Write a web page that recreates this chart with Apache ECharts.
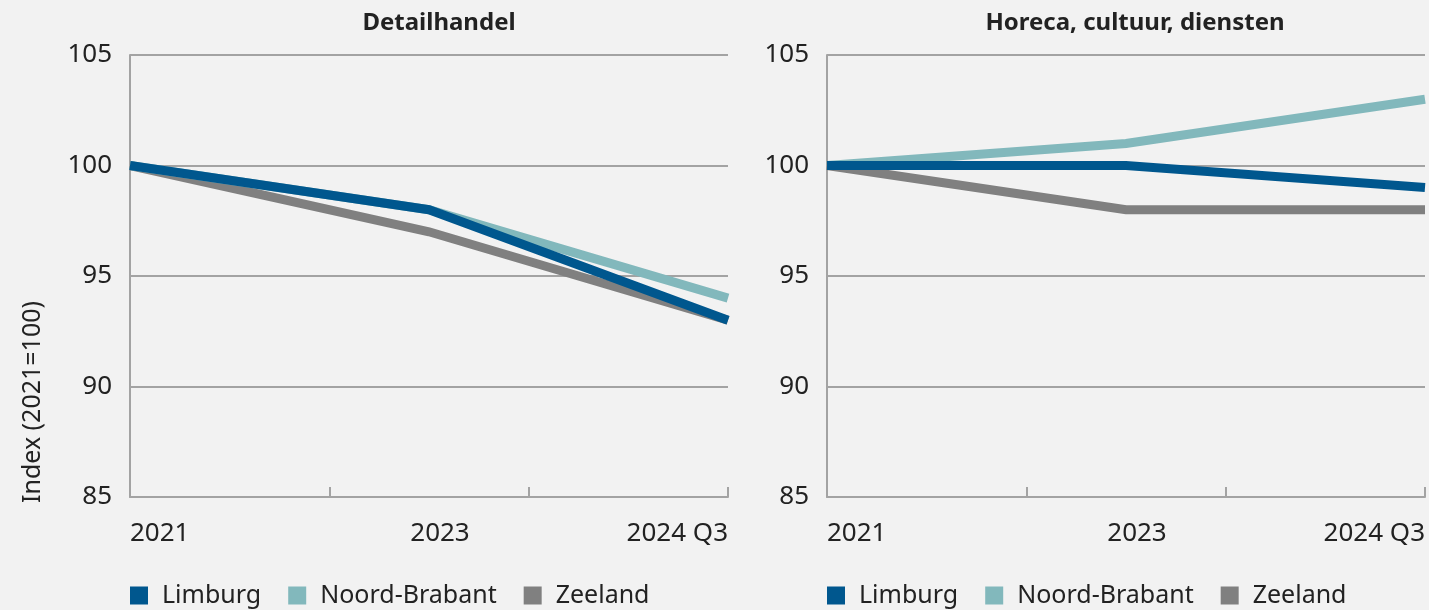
<!DOCTYPE html>
<html>
<head>
<meta charset="utf-8">
<script src="https://cdn.jsdelivr.net/npm/echarts@6/dist/echarts.min.js"></script>
<style>
  html, body { margin: 0; padding: 0; background: #f2f2f2; }
  #main { width: 1429px; height: 610px; }
</style>
</head>
<body>
<div id="main"></div>
<script>
// periodes op de x-as
var periods = ['2021', '2023', '2024 Q3'];
var regions = ['Limburg', 'Noord-Brabant', 'Zeeland'];

// Detailhandel
var detailLimburg = [100, 98, 93];
var detailBrabant = [100, 98, 94];
var detailZeeland = [100, 97, 93];

// Horeca, cultuur, diensten
var horecaLimburg = [100, 100, 99];
var horecaBrabant = [100, 101, 103];
var horecaZeeland = [100, 98, 98];

var colors = { 'Limburg': '#00578e', 'Noord-Brabant': '#82b8bc', 'Zeeland': '#808080' };
var font = '"Noto Sans", sans-serif';
var gridColor = '#a3a3a3';
var fs = 26;

// 7 slots: periodes op 0, 3 en 6, tickjes op 0, 2, 4, 6
var slots = ['', '', '', '', '', '', ''];
periods.forEach(function (p, i) { slots[i * 3] = p; });

function spread(vals) {
    var out = [null, null, null, null, null, null, null];
    vals.forEach(function (v, i) { out[i * 3] = v; });
    return out;
}

function xAxis(idx) {
    return {
        type: 'category',
        gridIndex: idx,
        boundaryGap: false,
        data: slots,
        axisLine: { lineStyle: { color: gridColor, width: 2 } },
        axisTick: {
            show: true, inside: true, length: 10,
            interval: function (i) { return i % 2 === 0; },
            lineStyle: { color: gridColor, width: 2 }
        },
        axisLabel: {
            interval: 0, fontSize: fs, color: '#222', fontFamily: font, margin: 24,
            alignMinLabel: 'left', alignMaxLabel: 'right',
            formatter: function (v, i) { return i === 3 ? '{m|' + v + '}' : v; },
            rich: { m: { fontSize: fs, color: '#222', fontFamily: font, padding: [0, 0, 0, 22] } }
        }
    };
}

function yAxis(idx) {
    return {
        type: 'value',
        gridIndex: idx,
        min: 85, max: 105, interval: 5,
        axisLine: { show: true, lineStyle: { color: gridColor, width: 2 } },
        axisTick: { show: false },
        splitLine: { lineStyle: { color: gridColor, width: 2 } },
        axisLabel: { fontSize: fs, color: '#222', fontFamily: font, margin: 18 }
    };
}

function line(name, vals, idx, z) {
    return {
        name: name,
        type: 'line',
        xAxisIndex: idx,
        yAxisIndex: idx,
        data: spread(vals),
        connectNulls: true,
        symbol: 'none',
        z: z,
        color: colors[name],
        lineStyle: { width: 9, color: colors[name], cap: 'butt', join: 'miter' }
    };
}

function legend(left) {
    return {
        data: regions,
        left: left, top: 583, padding: 0,
        icon: 'rect', itemWidth: 18, itemHeight: 18, itemGap: 27,
        textStyle: { fontSize: 25, color: '#222', fontFamily: font, padding: [0, 0, 0, 9] }
    };
}

var chart = echarts.init(document.getElementById('main'));
var option = {
    backgroundColor: '#f2f2f2',
    animation: false,
    title: [
        { text: 'Detailhandel', left: 434, top: 6, textAlign: 'center',
          textStyle: { fontSize: 24, fontWeight: 'bold', color: '#222', fontFamily: font } },
        { text: 'Horeca, cultuur, diensten', left: 1130, top: 6, textAlign: 'center',
          textStyle: { fontSize: 24, fontWeight: 'bold', color: '#222', fontFamily: font } }
    ],
    legend: [legend(130), legend(827)],
    grid: [
        { left: 130, top: 55, width: 598, height: 442 },
        { left: 827, top: 55, width: 598, height: 442 }
    ],
    xAxis: [xAxis(0), xAxis(1)],
    yAxis: [yAxis(0), yAxis(1)],
    graphic: [{
        type: 'text',
        x: 33, y: 402,
        rotation: Math.PI / 2,
        style: { text: 'Index (2021=100)', fontSize: 25, fill: '#222', fontFamily: font,
                 align: 'center', verticalAlign: 'middle' }
    }],
    series: [
        line('Zeeland', detailZeeland, 0, 2),
        line('Noord-Brabant', detailBrabant, 0, 3),
        line('Limburg', detailLimburg, 0, 4),
        line('Zeeland', horecaZeeland, 1, 2),
        line('Noord-Brabant', horecaBrabant, 1, 3),
        line('Limburg', horecaLimburg, 1, 4)
    ]
};
chart.setOption(option);
</script>
</body>
</html>
